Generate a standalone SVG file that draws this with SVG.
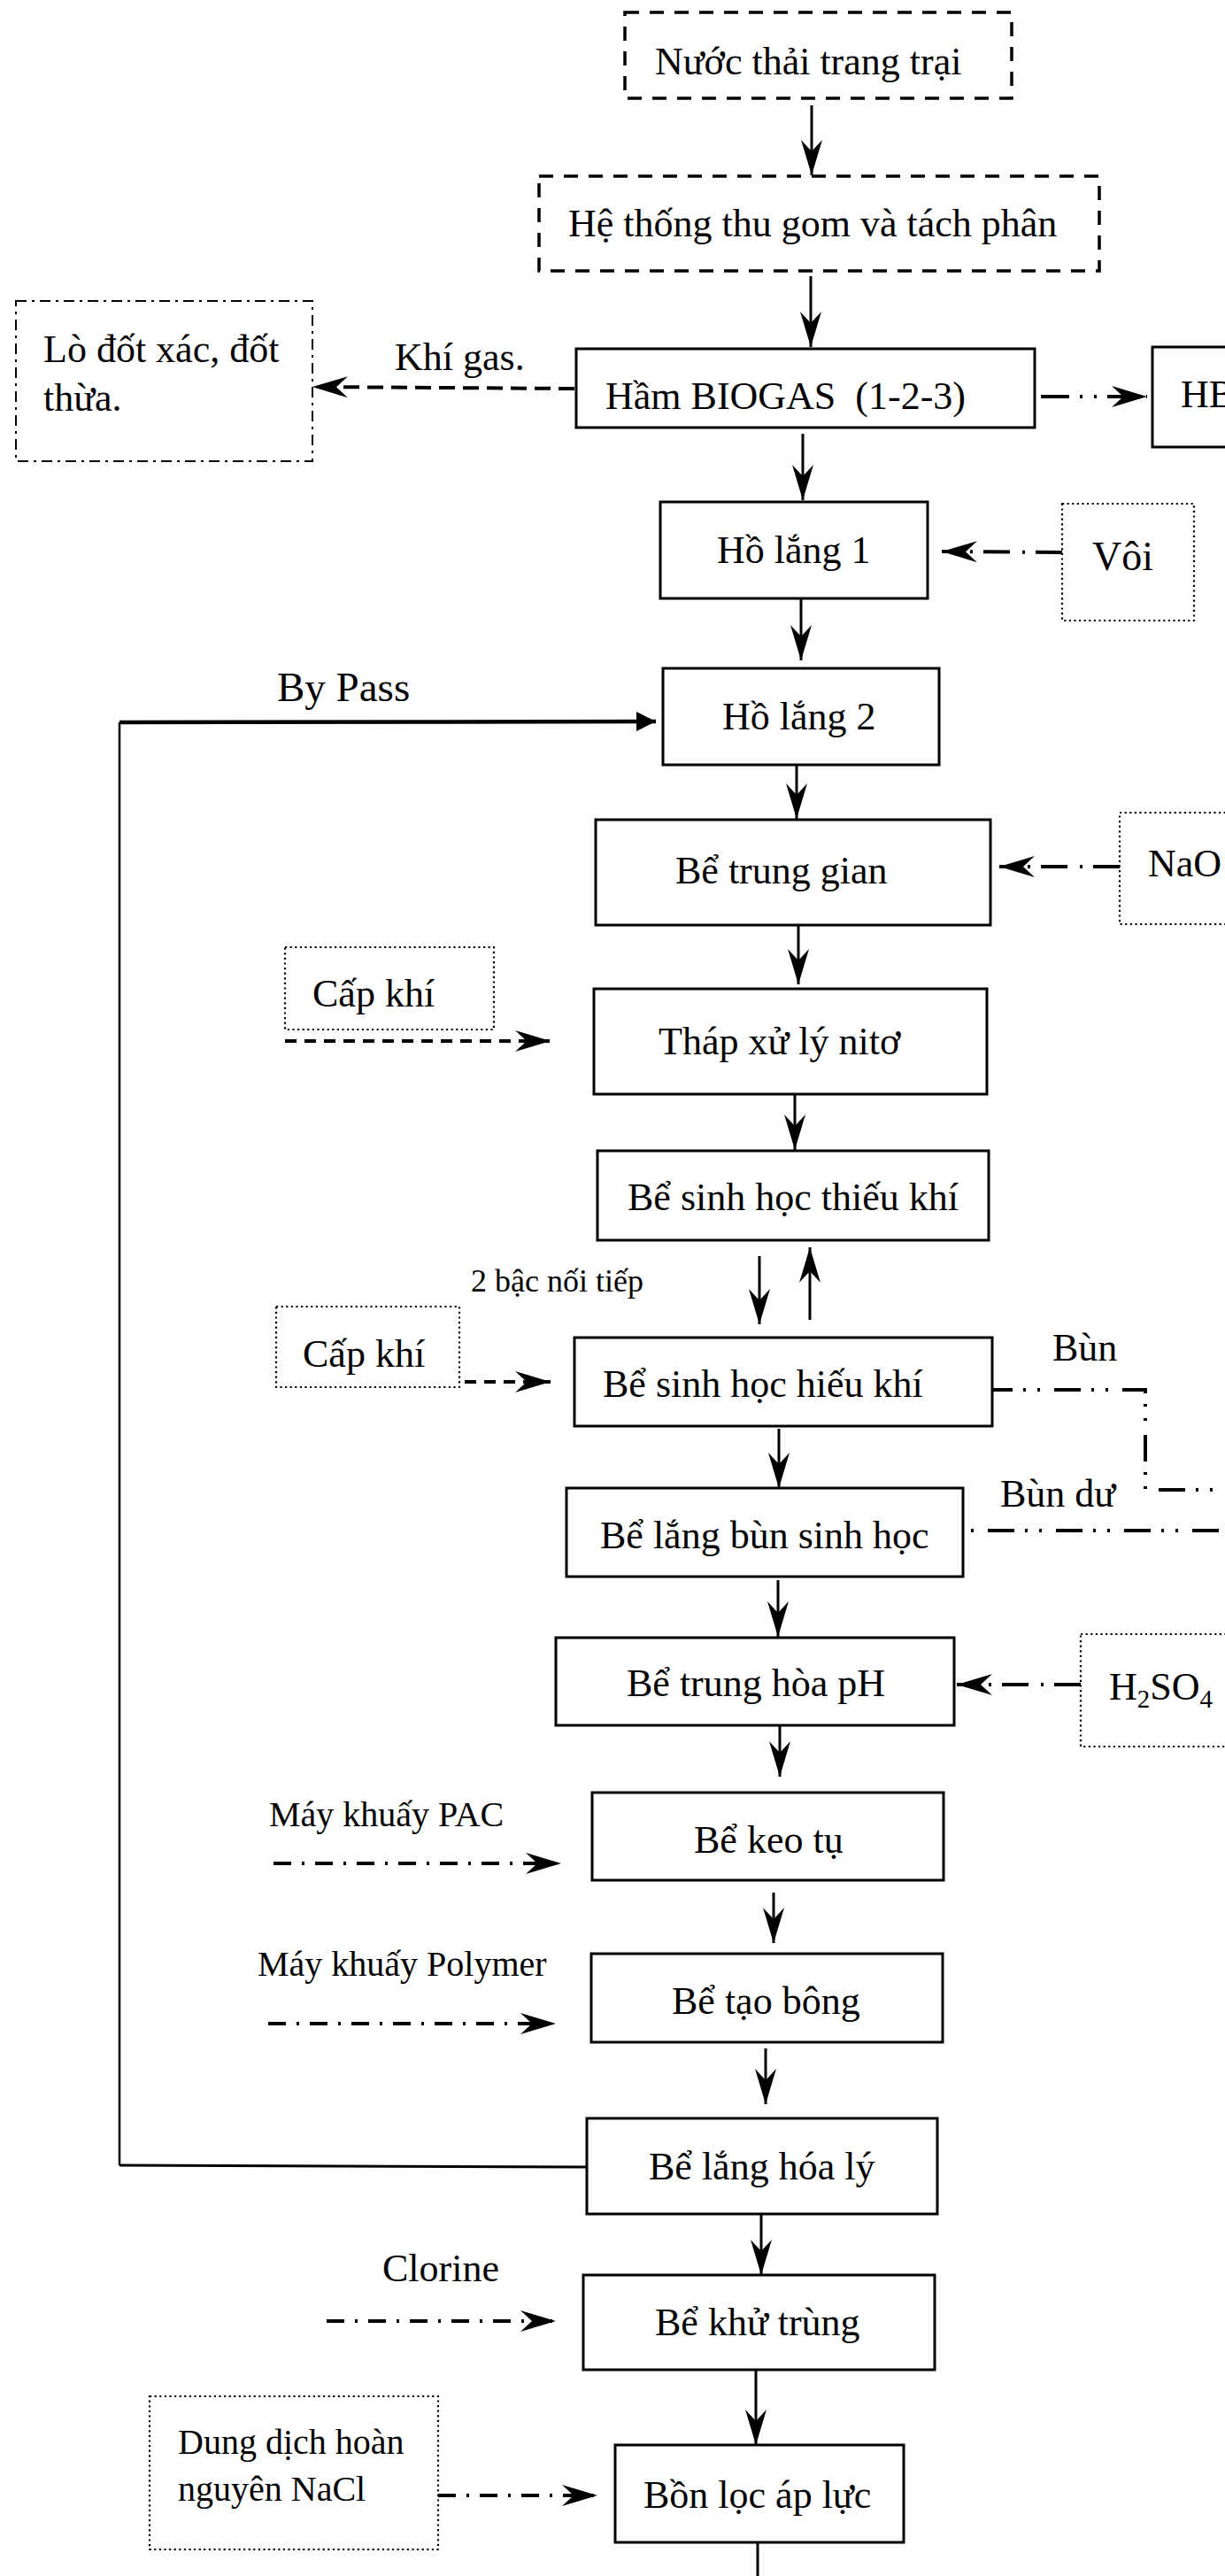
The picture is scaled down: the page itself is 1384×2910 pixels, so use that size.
<svg xmlns="http://www.w3.org/2000/svg" width="1384" height="2910" viewBox="0 0 1384 2910">
<style>
text{font-family:"Liberation Serif","Times New Roman",serif;font-size:44px;fill:#000;white-space:pre}
.sm{font-size:40px}
.xs{font-size:36px}
.box{fill:#fff;stroke:#000;stroke-width:3}
.dash{fill:#fff;stroke:#000;stroke-width:3.5;stroke-dasharray:16 12}
.dot{fill:#fff;stroke:#000;stroke-width:2.2;stroke-dasharray:2.2 3.4}
.dd{fill:#fff;stroke:#000;stroke-width:2;stroke-dasharray:12 6 3 6}
.flow{stroke:#000;stroke-width:3;fill:none;marker-end:url(#stealth)}
.dsh{stroke:#000;stroke-width:4;fill:none;stroke-dasharray:18 9;marker-end:url(#stealth)}
.sdsh{stroke:#000;stroke-width:4;fill:none;stroke-dasharray:13 9;marker-end:url(#stealth)}
.dsd{stroke:#000;stroke-width:4;fill:none;stroke-dasharray:30 12 3 14;marker-end:url(#stealth)}
.dsd2{stroke:#000;stroke-width:4;fill:none;stroke-dasharray:20 12 3 12;marker-end:url(#stealth)}
.ddd{stroke:#000;stroke-width:4;fill:none;stroke-dasharray:30 12 3 13 3 16}
</style>
<defs>
<marker id="stealth" viewBox="0 0 40 24" refX="40" refY="12" markerWidth="40" markerHeight="24" markerUnits="userSpaceOnUse" orient="auto">
<path d="M0,0 L40,12 L0,24 L13,12 Z" fill="#000"/>
</marker>
<marker id="tri" viewBox="0 0 22 22" refX="22" refY="11" markerWidth="22" markerHeight="22" markerUnits="userSpaceOnUse" orient="auto">
<path d="M0,0 L22,11 L0,22 Z" fill="#000"/>
</marker>
</defs>
<rect width="1384" height="2910" fill="#fff"/>

<g id="connectors">
<line class="flow" x1="917" y1="119" x2="917" y2="198"/>
<line class="flow" x1="916" y1="312" x2="916" y2="392"/>
<line class="flow" x1="907" y1="490" x2="907" y2="565"/>
<line class="flow" x1="905" y1="676" x2="905" y2="746"/>
<line class="flow" x1="900" y1="864" x2="900" y2="925"/>
<line class="flow" x1="902" y1="1045" x2="902" y2="1112"/>
<line class="flow" x1="898" y1="1236" x2="898" y2="1299"/>
<line class="flow" x1="858" y1="1419" x2="858" y2="1496"/>
<line class="flow" x1="915" y1="1491" x2="915" y2="1409"/>
<line class="flow" x1="880" y1="1614" x2="880" y2="1681"/>
<line class="flow" x1="879" y1="1785" x2="879" y2="1849"/>
<line class="flow" x1="881" y1="1949" x2="881" y2="2007"/>
<line class="flow" x1="874" y1="2138" x2="874" y2="2195"/>
<line class="flow" x1="865" y1="2314" x2="865" y2="2377"/>
<line class="flow" x1="860" y1="2501" x2="860" y2="2570"/>
<line class="flow" x1="854" y1="2677" x2="854" y2="2762"/>
<line stroke="#000" stroke-width="3" x1="856" y1="2872" x2="856" y2="2910"/>
<line class="dsh" x1="649" y1="439" x2="353" y2="437"/>
<line class="dsd" x1="1176" y1="448" x2="1296" y2="448" style="stroke-dasharray:32 12 3 13 3 12"/>
<line class="dsd" x1="1200" y1="624" x2="1064" y2="623"/>
<line class="dsd" x1="1265" y1="979" x2="1129" y2="979"/>
<line class="dsd" x1="1221" y1="1903" x2="1081" y2="1903"/>
<polyline fill="none" stroke="#000" stroke-width="2.5" points="135,2446 135,816"/>
<line stroke="#000" stroke-width="4.5" x1="135" y1="816" x2="741" y2="815" marker-end="url(#tri)"/>
<line stroke="#000" stroke-width="3" x1="663" y1="2448" x2="135" y2="2446"/>
<line class="sdsh" x1="322" y1="1176" x2="622" y2="1176"/>
<line class="sdsh" x1="349" y1="1561" x2="622" y2="1561"/>
<polyline class="ddd" points="1114,1570 1294,1570 1294,1683 1384,1683"/>
<line class="ddd" x1="1089" y1="1729" x2="1384" y2="1729" style="stroke-dashoffset:50"/>
<line class="dsd2" x1="309" y1="2105" x2="634" y2="2105"/>
<line class="dsd2" x1="303" y1="2286" x2="628" y2="2286"/>
<line class="dsd2" x1="369" y1="2622" x2="628" y2="2622"/>
<line class="dsd2" x1="495" y1="2819" x2="675" y2="2819"/>
</g>

<g id="n-nuoc-thai"><rect class="dash" x="706" y="14" width="437" height="97"/><text x="740" y="84">Nước thải trang trại</text></g>
<g id="n-thu-gom"><rect class="dash" x="609" y="199" width="633" height="107"/><text x="642" y="267">Hệ thống thu gom và tách phân</text></g>
<g id="n-lo-dot"><rect class="dd" x="18" y="340" width="335" height="181"/><text x="49" y="409">Lò đốt xác, đốt</text><text x="49" y="464">thừa.</text></g>
<g id="l-khi-gas"><text x="446" y="418">Khí gas.</text></g>
<g id="n-biogas"><rect class="box" x="651" y="394" width="518" height="89"/><text x="684" y="462">Hầm BIOGAS  (1-2-3)</text></g>
<g id="n-hb"><rect class="box" x="1302" y="392" width="100" height="113"/><text x="1334" y="460">HB</text></g>
<g id="n-ho-lang-1"><rect class="box" x="746" y="567" width="302" height="109"/><text x="810" y="636">Hồ lắng 1</text></g>
<g id="n-voi"><rect class="dot" x="1200" y="569" width="149" height="132"/><text x="1234" y="644" style="font-size:46px">Vôi</text></g>
<g id="l-bypass"><text x="313" y="792" style="font-size:47px">By Pass</text></g>
<g id="n-ho-lang-2"><rect class="box" x="749" y="755" width="312" height="109"/><text x="816" y="824">Hồ lắng 2</text></g>
<g id="n-trung-gian"><rect class="box" x="673" y="926" width="446" height="119"/><text x="763" y="998">Bể trung gian</text></g>
<g id="n-naoh"><rect class="dot" x="1265" y="918" width="140" height="126"/><text x="1297" y="990">NaO</text></g>
<g id="n-cap-khi-1"><rect class="dot" x="322" y="1070" width="236" height="93"/><text x="353" y="1137">Cấp khí</text></g>
<g id="n-thap"><rect class="box" x="671" y="1117" width="444" height="119"/><text x="744" y="1191">Tháp xử lý nitơ</text></g>
<g id="n-thieu-khi"><rect class="box" x="675" y="1300" width="442" height="101"/><text x="709" y="1367">Bể sinh học thiếu khí</text></g>
<g id="l-2bac"><text class="xs" x="532" y="1459">2 bậc nối tiếp</text></g>
<g id="n-cap-khi-2"><rect class="dot" x="312" y="1476" width="207" height="91"/><text x="342" y="1544">Cấp khí</text></g>
<g id="n-hieu-khi"><rect class="box" x="649" y="1511" width="472" height="100"/><text x="681" y="1578">Bể sinh học hiếu khí</text></g>
<g id="l-bun"><text x="1189" y="1537">Bùn</text></g>
<g id="l-bun-du"><text x="1130" y="1702">Bùn dư</text></g>
<g id="n-lang-bun"><rect class="box" x="640" y="1681" width="448" height="100"/><text x="678" y="1749">Bể lắng bùn sinh học</text></g>
<g id="n-trung-hoa"><rect class="box" x="628" y="1850" width="450" height="99"/><text x="708" y="1916">Bể trung hòa pH</text></g>
<g id="n-h2so4"><rect class="dot" x="1221" y="1846" width="180" height="127"/><text x="1253" y="1920">H<tspan style="font-size:29px" dy="9">2</tspan><tspan dy="-9">SO</tspan><tspan style="font-size:29px" dy="9">4</tspan></text></g>
<g id="l-pac"><text class="sm" x="304" y="2063">Máy khuấy PAC</text></g>
<g id="n-keo-tu"><rect class="box" x="669" y="2025" width="397" height="99"/><text x="784" y="2093">Bể keo tụ</text></g>
<g id="l-polymer"><text class="sm" x="291" y="2232">Máy khuấy Polymer</text></g>
<g id="n-tao-bong"><rect class="box" x="668" y="2207" width="397" height="100"/><text x="759" y="2275">Bể tạo bông</text></g>
<g id="n-lang-hoa-ly"><rect class="box" x="663" y="2393" width="396" height="108"/><text x="733" y="2462">Bể lắng hóa lý</text></g>
<g id="l-clorine"><text x="432" y="2577">Clorine</text></g>
<g id="n-khu-trung"><rect class="box" x="659" y="2570" width="397" height="107"/><text x="740" y="2638">Bể khử trùng</text></g>
<g id="n-nacl"><rect class="dot" x="169" y="2707" width="326" height="173"/><text class="sm" x="201" y="2772">Dung dịch hoàn</text><text class="sm" x="201" y="2825">nguyên NaCl</text></g>
<g id="n-bon-loc"><rect class="box" x="695" y="2762" width="326" height="110"/><text x="727" y="2833">Bồn lọc áp lực</text></g>
</svg>
